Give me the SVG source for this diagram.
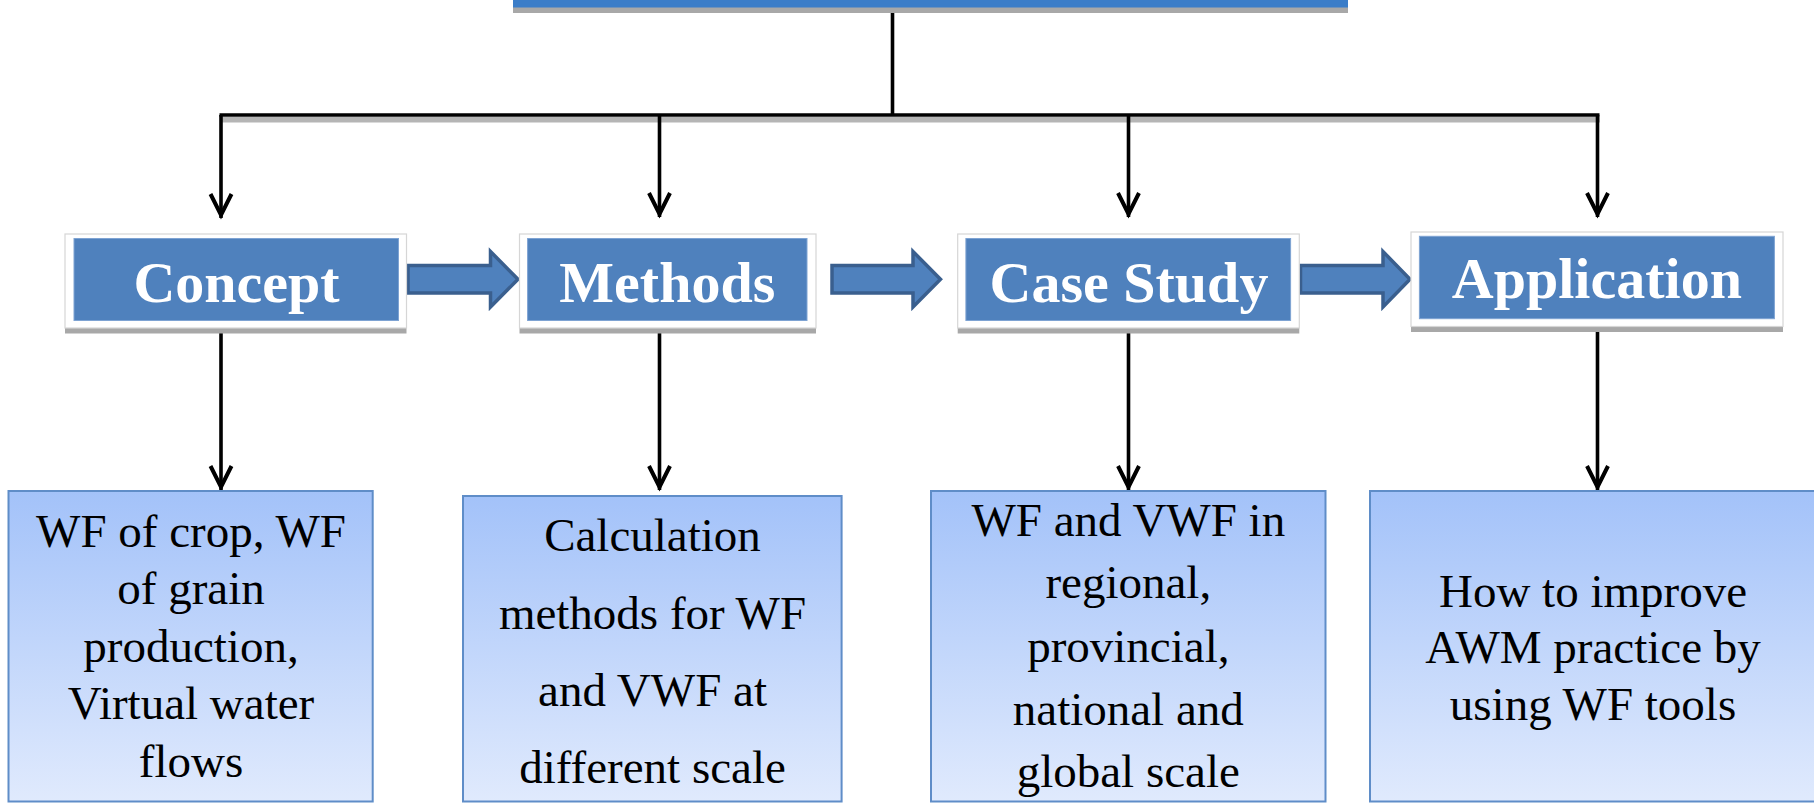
<svg xmlns="http://www.w3.org/2000/svg" width="1814" height="803" viewBox="0 0 1814 803">
<defs>
<linearGradient id="gb" x1="0" y1="0" x2="0" y2="1">
<stop offset="0" stop-color="#a3c2f9"/>
<stop offset="1" stop-color="#e0eafd"/>
</linearGradient>
<marker id="ah" viewBox="-26 -15 30 30" markerWidth="30" markerHeight="30" refX="0" refY="0" orient="auto" markerUnits="userSpaceOnUse">
<path d="M-24,-10.5 L-3,0 L-24,10.5" fill="none" stroke="#000" stroke-width="4"/>
</marker>
<style>
.ln{fill:none;stroke:#000;stroke-width:3.6}
.outer{fill:#fff;stroke:#d6d6d6;stroke-width:1.2}
.shd{fill:#a8a8a8}
.inner{fill:#4f81bd;stroke:#7ea3d3;stroke-width:1}
.tt{font-family:"Liberation Serif","Times New Roman",serif;font-weight:bold;font-size:58px;fill:#fff;text-anchor:middle}
.bx{fill:url(#gb);stroke:#5f8dc8;stroke-width:2}
.bt{font-family:"Liberation Serif","Times New Roman",serif;font-size:47px;fill:#000;text-anchor:middle}
.blk{fill:#4f81bd;stroke:#3a5f8e;stroke-width:3.5;stroke-linejoin:miter}
</style>
</defs>
<rect x="0" y="0" width="1814" height="803" fill="#fff"/>

<g id="title">
<rect x="513" y="7" width="835" height="6" class="shd"/>
<rect x="513" y="0" width="835" height="7.5" fill="#3b7dc8"/>
</g>

<g id="connectors">
<rect x="221" y="117" width="1379" height="5.5" fill="#b5b5b5"/>
<path class="ln" d="M892.5,13 V115"/>
<path class="ln" d="M219.5,115 H1599.5"/>
<path class="ln" d="M221,115 V218" marker-end="url(#ah)"/>
<path class="ln" d="M659.5,115 V217" marker-end="url(#ah)"/>
<path class="ln" d="M1128.5,115 V217" marker-end="url(#ah)"/>
<path class="ln" d="M1597.5,115 V217" marker-end="url(#ah)"/>
<path class="ln" d="M221,325 V490" marker-end="url(#ah)"/>
<path class="ln" d="M659.5,325 V490" marker-end="url(#ah)"/>
<path class="ln" d="M1128.5,325 V490" marker-end="url(#ah)"/>
<path class="ln" d="M1597.5,325 V490" marker-end="url(#ah)"/>
<path class="blk" d="M408,265.5 H490.5 V251.5 L518,279.3 L490.5,307 V293 H408 Z"/>
<path class="blk" d="M832,265.5 H913 V251.5 L940.5,279.3 L913,307 V293 H832 Z"/>
<path class="blk" d="M1300.5,265.5 H1383 V251.5 L1410,279.3 L1383,307 V293 H1300.5 Z"/>
</g>

<g id="concept">
<rect x="65" y="328" width="341.5" height="5.5" class="shd"/>
<rect x="65" y="234" width="341.5" height="94" class="outer"/>
<rect x="74" y="238.5" width="324.5" height="82" class="inner"/>
<text x="236.5" y="301.7" class="tt">Concept</text>
</g>

<g id="methods">
<rect x="519.5" y="328" width="296.5" height="5.5" class="shd"/>
<rect x="519.5" y="234" width="296.5" height="94" class="outer"/>
<rect x="527.6" y="238.5" width="279.4" height="82" class="inner"/>
<text x="667.3" y="301.7" class="tt">Methods</text>
</g>

<g id="casestudy">
<rect x="957.7" y="328" width="341.6" height="5.5" class="shd"/>
<rect x="957.7" y="234" width="341.6" height="94" class="outer"/>
<rect x="965.9" y="238.5" width="324.7" height="82" class="inner"/>
<text x="1129" y="301.7" class="tt">Case Study</text>
</g>

<g id="application">
<rect x="1411" y="326.5" width="372" height="5.5" class="shd"/>
<rect x="1411" y="232" width="372" height="94.5" class="outer"/>
<rect x="1419.4" y="236.3" width="355" height="82.4" class="inner"/>
<text x="1596.9" y="298.3" class="tt">Application</text>
</g>

<g id="concept-detail">
<rect x="8.5" y="491" width="364.2" height="310.5" class="bx"/>
<text class="bt"><tspan x="191" y="547.3">WF of crop, WF</tspan><tspan x="191" y="604">of grain</tspan><tspan x="191" y="661.7">production,</tspan><tspan x="191" y="718.5">Virtual water</tspan><tspan x="191" y="776.5">flows</tspan></text>
</g>

<g id="methods-detail">
<rect x="463" y="496" width="378.6" height="305.5" class="bx"/>
<text class="bt"><tspan x="652.5" y="551">Calculation</tspan><tspan x="652.5" y="629.3">methods for WF</tspan><tspan x="652.5" y="705.7">and VWF at</tspan><tspan x="652.5" y="783.3">different scale</tspan></text>
</g>

<g id="casestudy-detail">
<rect x="931" y="491" width="394.5" height="310.5" class="bx"/>
<text class="bt"><tspan x="1128.3" y="535.7">WF and VWF in</tspan><tspan x="1128.3" y="598.3">regional,</tspan><tspan x="1128.3" y="661.7">provincial,</tspan><tspan x="1128.3" y="725">national and</tspan><tspan x="1128.3" y="786.7">global scale</tspan></text>
</g>

<g id="application-detail">
<rect x="1370" y="491" width="450" height="310.5" class="bx"/>
<text class="bt"><tspan x="1593" y="606.7">How to improve</tspan><tspan x="1593" y="663">AWM practice by</tspan><tspan x="1593" y="720">using WF tools</tspan></text>
</g>
</svg>
